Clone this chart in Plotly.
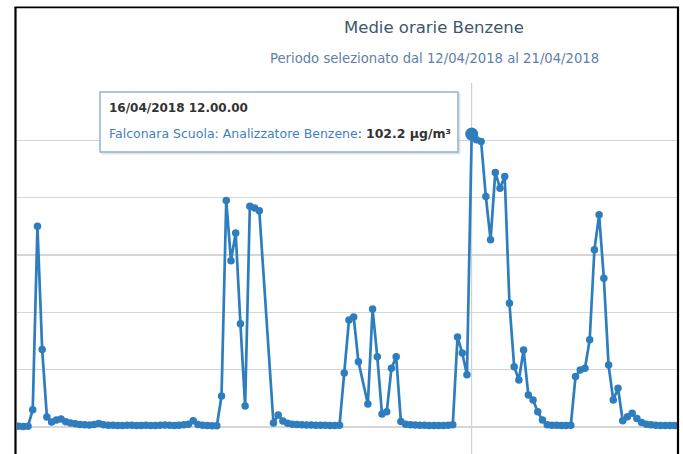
import pandas as pd
import plotly.graph_objects as go

# ---------------- data ----------------
title_text = "Medie orarie Benzene"
subtitle_text = "Periodo selezionato dal 12/04/2018 al 21/04/2018"
series_name = "Falconara Scuola: Analizzatore Benzene"
unit = "μg/m³"

start_time = "2018-04-12 11:00"   # first hourly sample shown
benzene = [
    0.3, 0.3, 0.2, 0.3, 6.0, 70.0, 27.0, 3.5, 1.7, 2.4,
    2.8, 1.8, 1.4, 1.1, 0.9, 0.8, 0.7, 0.9, 1.2, 0.8,
    0.6, 0.6, 0.5, 0.5, 0.6, 0.6, 0.5, 0.5, 0.6, 0.5,
    0.5, 0.6, 0.7, 0.6, 0.5, 0.6, 0.8, 1.0, 2.2, 0.9,
    0.6, 0.5, 0.4, 0.4, 10.8, 79.0, 58.0, 67.7, 36.0, 7.3,
    77.0, 76.4, 75.4, None, None, 1.4, 4.2, 2.1, 1.3, 1.0,
    0.9, 0.8, 0.7, 0.7, 0.6, 0.6, 0.6, 0.5, 0.5, 0.6,
    18.8, 37.3, 38.4, 22.8, None, 8.0, 41.2, 24.5, 4.5, 5.3,
    20.5, 24.5, 1.9, 1.0, 0.8, 0.7, 0.6, 0.6, 0.5, 0.5,
    0.5, 0.5, 0.6, 0.8, 31.4, 25.8, 18.2, 102.2, 100.2, 99.6,
    80.4, 65.3, 88.8, 83.3, 87.4, 43.2, 21.0, 16.4, 26.9, 11.2,
    9.4, 5.3, 2.4, 0.8, 0.6, 0.6, 0.5, 0.5, 0.6, 17.6,
    19.9, 20.5, 30.4, 61.8, 74.0, 51.9, 21.6, 9.4, 13.5, 2.2,
    3.6, 4.8, 3.0, 1.6, 1.0, 0.8, 0.6, 0.5, 0.5, 0.5,
    0.5, 0.5,
]
y_ticks = [0, 20, 40, 60, 80, 100, 120]
x_range = ["2018-04-12 11:40", "2018-04-18 07:30"]
y_range = [-9.42, 120]

# ---------------- styling ----------------
W, H = 683, 454
ML, MR, MT, MB = 17, 6, 83, 0
PW, PH = W - ML - MR, H - MT - MB
FONT = "DejaVu Sans"
LINE_C = "#2e7dbf"


def fx(px):
    return (px - ML) / PW


def fy(py):
    return (H - MB - py) / PH


times = pd.date_range(start_time, periods=len(benzene), freq="h")
valid = [(t, v) for t, v in zip(times, benzene) if v is not None]
peak_time, peak_value = max(valid, key=lambda tv: tv[1])

fig = go.Figure()
fig.add_trace(go.Scatter(
    x=times, y=benzene, mode="lines+markers", connectgaps=True,
    line=dict(color=LINE_C, width=2.7),
    marker=dict(size=7.5, color=LINE_C),
    hoverinfo="skip", showlegend=False,
))
fig.add_trace(go.Scatter(
    x=[peak_time], y=[peak_value], mode="markers",
    marker=dict(size=13, color=LINE_C),
    hoverinfo="skip", showlegend=False,
))

shapes = [
    # crosshair
    dict(type="line", xref="x", yref="paper", x0=peak_time, x1=peak_time,
         y0=0, y1=1, line=dict(color="#c8c8c8", width=1), layer="below"),
    # frame
    dict(type="line", xref="paper", yref="paper", x0=fx(15.5), x1=fx(15.5),
         y0=fy(454), y1=fy(7), line=dict(color="#000000", width=2.2), layer="above"),
    dict(type="line", xref="paper", yref="paper", x0=fx(14.5), x1=fx(679),
         y0=fy(7.3), y1=fy(7.3), line=dict(color="#000000", width=1.8), layer="above"),
    dict(type="line", xref="paper", yref="paper", x0=fx(678), x1=fx(678),
         y0=fy(454), y1=fy(7), line=dict(color="#000000", width=2.2), layer="above"),
    # tooltip shadow + box
    dict(type="rect", xref="paper", yref="paper", x0=fx(101.5), x1=fx(460.5),
         y0=fy(154.5), y1=fy(93.5), fillcolor="rgba(0,0,0,0.10)",
         line=dict(width=0), layer="above"),
    dict(type="rect", xref="paper", yref="paper", x0=fx(100), x1=fx(458),
         y0=fy(152), y1=fy(92), fillcolor="rgba(255,255,255,0.97)",
         line=dict(color="#8fb3d6", width=1.5), layer="above"),
]

tip_head = peak_time.strftime("%d/%m/%Y %H.%M.%S")
tip_body = (f"<span style='color:#3f7fc0'>{series_name}</span>: "
            f"<b>{peak_value:.1f} {unit}</b>")

annotations = [
    dict(text=title_text, xref="paper", yref="paper", x=fx(434), y=fy(28),
         xanchor="center", yanchor="middle", showarrow=False,
         font=dict(family=FONT, size=16.5, color="#3e576f")),
    dict(text=subtitle_text, xref="paper", yref="paper", x=fx(434), y=fy(58),
         xanchor="center", yanchor="middle", showarrow=False,
         font=dict(family=FONT, size=13.2, color="#5f80a6")),
    dict(text=f"<b>{tip_head}</b>", xref="paper", yref="paper", x=fx(107), y=fy(108),
         xanchor="left", yanchor="middle", showarrow=False,
         font=dict(family=FONT, size=12, color="#333333")),
    dict(text=tip_body, xref="paper", yref="paper", x=fx(107), y=fy(133),
         xanchor="left", yanchor="middle", showarrow=False,
         font=dict(family=FONT, size=12.5, color="#333333")),
]

fig.update_layout(
    width=W, height=H,
    margin=dict(l=ML, r=MR, t=MT, b=MB, pad=0),
    paper_bgcolor="white", plot_bgcolor="white",
    showlegend=False,
    shapes=shapes, annotations=annotations,
    xaxis=dict(type="date", range=x_range, showgrid=False, showticklabels=False,
               zeroline=False, showline=False, ticks="", fixedrange=True),
    yaxis=dict(range=y_range, tickvals=y_ticks, showgrid=True, gridcolor="#d6d6d6",
               gridwidth=1.2, showticklabels=False, zeroline=False, showline=False,
               ticks="", fixedrange=True),
)

fig.write_html("out.html",
               config={"displayModeBar": False, "staticPlot": True},
               post_script="document.body.style.margin='0';"
                           "document.body.style.padding='0';")
